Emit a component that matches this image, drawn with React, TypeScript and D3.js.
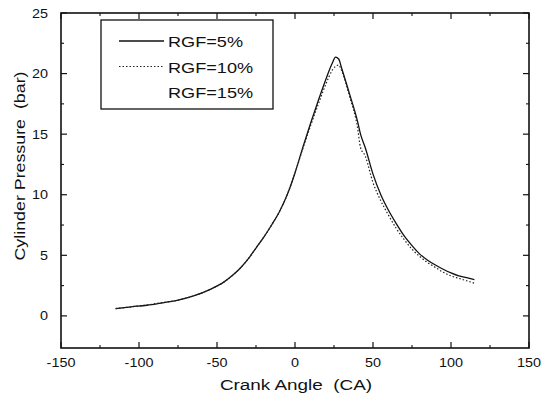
import React from "react";
import * as d3 from "d3";

const angles = [-115, -105, -95, -85, -75, -65, -55, -45, -40, -35, -30, -25, -20, -15, -10, -5, 0, 5, 10, 15, 20, 24, 26, 28, 30, 35, 40, 42, 45, 50, 55, 60, 65, 70, 75, 80, 85, 90, 95, 100, 105, 110, 115];
const rgf5 = [0.6, 0.75, 0.88, 1.08, 1.3, 1.65, 2.15, 2.85, 3.35, 3.95, 4.7, 5.6, 6.5, 7.5, 8.6, 10.0, 11.8, 13.9, 15.9, 17.8, 19.6, 20.9, 21.35, 21.2, 20.4, 18.3, 16.1, 15.0, 13.9, 11.7, 10.0, 8.7, 7.6, 6.6, 5.8, 5.1, 4.6, 4.2, 3.85, 3.55, 3.3, 3.15, 3.0];
const rgf10 = [0.6, 0.75, 0.9, 1.1, 1.3, 1.65, 2.15, 2.85, 3.35, 3.95, 4.7, 5.6, 6.5, 7.5, 8.6, 10.0, 11.8, 13.8, 15.7, 17.5, 19.2, 20.3, 20.6, 20.7, 20.2, 18.1, 15.6, 13.9, 13.2, 11.0, 9.5, 8.3, 7.2, 6.3, 5.5, 4.9, 4.4, 4.0, 3.6, 3.3, 3.1, 2.9, 2.7];
const legendLabels = ["RGF=5%", "RGF=10%", "RGF=15%"];
const xTicks = [-150, -100, -50, 0, 50, 100, 150];
const yTicks = [0, 5, 10, 15, 20, 25];

export default function App() {
  const W = 543, H = 401;
  const L = 61, R = 529, T = 13, B = 348;
  const x = d3.scaleLinear().domain([-150, 150]).range([L, R]);
  const y = d3.scaleLinear().domain([-2.65, 25]).range([B, T]);
  const line = d3.line<[number, number]>().x(d => x(d[0])).y(d => y(d[1])).curve(d3.curveMonotoneX);
  const s1 = angles.map((a, i) => [a, rgf5[i]] as [number, number]);
  const s2 = angles.map((a, i) => [a, rgf10[i]] as [number, number]);
  const xMinor = d3.range(-125, 150, 50);
  const yMinor = [2.5, 7.5, 12.5, 17.5, 22.5];
  const font = "Liberation Sans, Arial, sans-serif";
  const legendBase = [47, 72.5, 98];
  return (
    <svg width={W} height={H} style={{ position: "absolute", left: 0, top: 0 }} fontFamily={font}>
      <rect x={0} y={0} width={W} height={H} fill="#fff" />
      <path d={line(s1) || ""} fill="none" stroke="#111" strokeWidth={1.3} />
      <path d={line(s2) || ""} fill="none" stroke="#222" strokeWidth={1.2} strokeDasharray="1.5,2" />
      <rect x={L} y={T} width={R - L} height={B - T} fill="none" stroke="#111" strokeWidth={1.6} />
      {xTicks.map(t => (
        <g key={"xt" + t}>
          <line x1={x(t)} x2={x(t)} y1={B} y2={B - 6} stroke="#111" strokeWidth={1.2} />
          <line x1={x(t)} x2={x(t)} y1={T} y2={T + 6} stroke="#111" strokeWidth={1.2} />
          <text transform={`translate(${x(t)},367) scale(1.2,1)`} fontSize={12} textAnchor="middle" fill="#111">{t}</text>
        </g>
      ))}
      {xMinor.map(t => (
        <g key={"xm" + t}>
          <line x1={x(t)} x2={x(t)} y1={B} y2={B - 3} stroke="#111" strokeWidth={1.1} />
          <line x1={x(t)} x2={x(t)} y1={T} y2={T + 3} stroke="#111" strokeWidth={1.1} />
        </g>
      ))}
      {yTicks.map(t => (
        <g key={"yt" + t}>
          <line x1={L} x2={L + 6} y1={y(t)} y2={y(t)} stroke="#111" strokeWidth={1.2} />
          <line x1={R} x2={R - 6} y1={y(t)} y2={y(t)} stroke="#111" strokeWidth={1.2} />
          <text transform={`translate(48,${y(t) + 4.5}) scale(1.2,1)`} fontSize={12} textAnchor="end" fill="#111">{t}</text>
        </g>
      ))}
      {yMinor.map(t => (
        <g key={"ym" + t}>
          <line x1={L} x2={L + 3} y1={y(t)} y2={y(t)} stroke="#111" strokeWidth={1.1} />
          <line x1={R} x2={R - 3} y1={y(t)} y2={y(t)} stroke="#111" strokeWidth={1.1} />
        </g>
      ))}
      <text transform={`translate(${(L + R) / 2 + 1},390) scale(1.22,1)`} fontSize={15.5} textAnchor="middle" fill="#111" style={{ whiteSpace: "pre" }}>Crank Angle  (CA)</text>
      <text transform={`translate(25, ${166}) rotate(-90) scale(1.15,1)`} fontSize={15.5} textAnchor="middle" fill="#111" style={{ whiteSpace: "pre" }}>Cylinder Pressure  (bar)</text>
      <rect x={101} y={20} width={172} height={89} fill="#fff" stroke="#111" strokeWidth={1.3} />
      <line x1={119} x2={164} y1={41} y2={41} stroke="#111" strokeWidth={1.3} />
      <line x1={119} x2={164} y1={66.5} y2={66.5} stroke="#222" strokeWidth={1.2} strokeDasharray="1.5,2" />
      {legendLabels.map((l, i) => (
        <text key={l} transform={`translate(168,${legendBase[i]}) scale(1.25,1)`} fontSize={14.5} fill="#111">{l}</text>
      ))}
    </svg>
  );
}
